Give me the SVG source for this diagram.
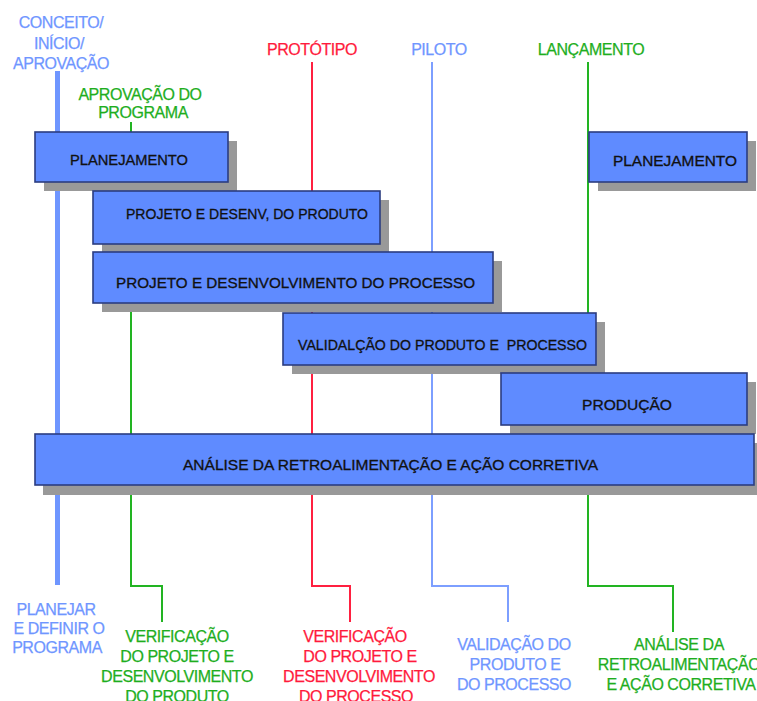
<svg xmlns="http://www.w3.org/2000/svg" width="757" height="701" viewBox="0 0 757 701">
<style>
text{font-family:"Liberation Sans",Arial,sans-serif}
.lbl{font-size:16px;letter-spacing:-0.45px;text-anchor:middle;stroke-width:0.25}
.blue{fill:#6f96ff;stroke:#6f96ff}
.green{fill:#1eae1e;stroke:#1eae1e}
.red{fill:#ff1a3c;stroke:#ff1a3c}
.box{fill:#5f8bff;stroke:#2b3c80;stroke-width:1.6}
.sh{fill:#999999}
.bt{fill:#111111;stroke:#111111;stroke-width:0.3;font-size:14.5px}
.ln{fill:none;stroke-width:2}
.lb{stroke:#7d9fff}
.lg{stroke:#22b422}
.lr{stroke:#ff2040}
</style>
<rect width="757" height="701" fill="#ffffff"/>
<g id="connectors">
<line x1="57.5" y1="71" x2="57.5" y2="585" stroke="#6f96ff" stroke-width="5"/>
<polyline class="ln lg" points="131,122 131,586 162,586 162,622"/>
<polyline class="ln lr" points="312,62 312,586 350,586 350,622"/>
<polyline class="ln lb" points="432,62 432,586 508,586 508,622"/>
<polyline class="ln lg" points="588,62 588,586 673,586 673,632"/>
</g>
<g id="conceito">
<text class="lbl blue"><tspan x="61" y="28">CONCEITO/</tspan><tspan x="59" y="49">INÍCIO/</tspan><tspan x="61" y="69">APROVAÇÃO</tspan></text>
</g>
<g id="aprovacao-programa">
<text class="lbl green"><tspan x="140" y="100">APROVAÇÃO DO</tspan><tspan x="143" y="118">PROGRAMA</tspan></text>
</g>
<g id="prototipo"><text class="lbl red" x="312" y="55">PROTÓTIPO</text></g>
<g id="piloto"><text class="lbl blue" x="439" y="55">PILOTO</text></g>
<g id="lancamento"><text class="lbl green" x="591" y="55">LANÇAMENTO</text></g>

<g id="planejamento-1">
<rect class="sh" x="44" y="141" width="193" height="50"/>
<rect class="box" x="35" y="132" width="193" height="50"/>
<text class="bt" x="70" y="165" textLength="118" lengthAdjust="spacingAndGlyphs">PLANEJAMENTO</text>
</g>
<g id="planejamento-2">
<rect class="sh" x="598" y="141" width="158" height="50"/>
<rect class="box" x="589" y="132" width="158" height="50"/>
<text class="bt" x="613" y="166" textLength="124" lengthAdjust="spacingAndGlyphs">PLANEJAMENTO</text>
</g>
<g id="projeto-produto">
<rect class="sh" x="102" y="200" width="287" height="53"/>
<rect class="box" x="93" y="191" width="287" height="53"/>
<text class="bt" x="126" y="219" font-size="14" textLength="242" lengthAdjust="spacingAndGlyphs">PROJETO E DESENV, DO PRODUTO</text>
</g>
<g id="projeto-processo">
<rect class="sh" x="102" y="261" width="400" height="51"/>
<rect class="box" x="93" y="252" width="400" height="51"/>
<text class="bt" x="116" y="288" textLength="359" lengthAdjust="spacingAndGlyphs">PROJETO E DESENVOLVIMENTO DO PROCESSO</text>
</g>
<g id="validacao">
<rect class="sh" x="292" y="322" width="313" height="52"/>
<rect class="box" x="283" y="313" width="313" height="52"/>
<text class="bt" x="298" y="350" xml:space="preserve" textLength="289" lengthAdjust="spacingAndGlyphs">VALIDALÇÃO DO PRODUTO E  PROCESSO</text>
</g>
<g id="producao">
<rect class="sh" x="510" y="382" width="246" height="52"/>
<rect class="box" x="501" y="373" width="246" height="52"/>
<text class="bt" x="582" y="410" textLength="90" lengthAdjust="spacingAndGlyphs">PRODUÇÃO</text>
</g>
<g id="analise">
<rect class="sh" x="43" y="443" width="719" height="52"/>
<rect class="box" x="35" y="434" width="719" height="51"/>
<text class="bt" x="183" y="470" textLength="415" lengthAdjust="spacingAndGlyphs">ANÁLISE DA RETROALIMENTAÇÃO E AÇÃO CORRETIVA</text>
</g>

<g id="planejar">
<text class="lbl blue"><tspan x="56" y="615">PLANEJAR</tspan><tspan x="59" y="634">E DEFINIR O</tspan><tspan x="57" y="653">PROGRAMA</tspan></text>
</g>
<g id="verificacao-produto">
<text class="lbl green"><tspan x="177" y="642">VERIFICAÇÃO</tspan><tspan x="177" y="662">DO PROJETO E</tspan><tspan x="177" y="682">DESENVOLVIMENTO</tspan><tspan x="177" y="702">DO PRODUTO</tspan></text>
</g>
<g id="verificacao-processo">
<text class="lbl red"><tspan x="355" y="642">VERIFICAÇÃO</tspan><tspan x="360" y="662">DO PROJETO E</tspan><tspan x="359" y="682">DESENVOLVIMENTO</tspan><tspan x="356" y="702">DO PROCESSO</tspan></text>
</g>
<g id="validacao-produto">
<text class="lbl blue"><tspan x="514" y="650">VALIDAÇÃO DO</tspan><tspan x="515" y="670">PRODUTO E</tspan><tspan x="514" y="690">DO PROCESSO</tspan></text>
</g>
<g id="analise-retro">
<text class="lbl green"><tspan x="679" y="650">ANÁLISE DA</tspan><tspan x="679" y="670">RETROALIMENTAÇÃO</tspan><tspan x="681" y="690">E AÇÃO CORRETIVA</tspan></text>
</g>
</svg>
